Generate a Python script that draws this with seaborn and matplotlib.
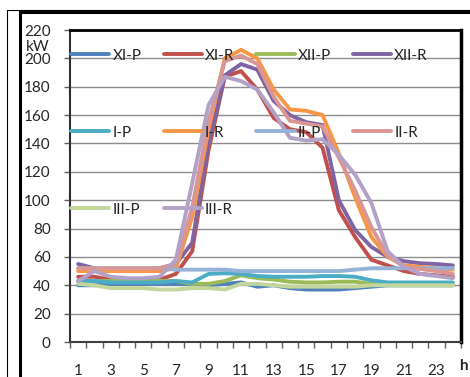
import numpy as np
import pandas as pd
import matplotlib
matplotlib.use("Agg")
import matplotlib.pyplot as plt
from matplotlib.lines import Line2D
import seaborn as sns

hours = list(range(1, 25))
series_names = ["XI-P", "XI-R", "XII-P", "XII-R", "I-P", "I-R", "II-P", "II-R", "III-P", "III-R"]
colors = ["#4F81BD", "#C0504D", "#9BBB59", "#8064A2", "#4BACC6", "#F79646",
          "#95B3D7", "#D99694", "#C3D69B", "#B3A2C7"]

xi_p   = [40, 40, 41, 41, 41, 41, 41, 41, 40, 41, 42, 39, 40, 38, 37, 37, 37, 38, 39, 40, 40, 40, 40, 40]
xi_r   = [46, 46, 44, 44, 44, 44, 48, 64, 135, 187, 191, 178, 158, 150, 148, 137, 93, 74, 58, 54, 50, 48, 47, 46]
xii_p  = [43, 43, 43, 43, 43, 43, 43, 41, 41, 43, 47, 45, 44, 42.5, 42, 42, 42.5, 42.5, 41, 40, 40, 40, 40, 40]
xii_r  = [55, 52, 50, 50, 51, 52, 55, 70, 140, 188, 196, 192, 170, 160, 155, 153, 100, 79, 67, 60, 57, 55.5, 55, 54]
i_p    = [43, 43, 42, 42, 42, 42, 43, 42, 48, 48.5, 48, 46.5, 46, 46, 46, 46.5, 46.5, 46, 43.5, 42, 42, 42, 42, 42]
i_r    = [50, 50, 50, 50, 50, 50, 52, 88, 150, 200, 206, 200, 178, 164, 163, 160, 133, 102, 74, 60, 54, 53, 52, 51]
ii_p   = [52, 52, 52, 52, 52, 52, 51, 51, 51, 51, 50, 50, 50, 50, 50, 50, 50, 51, 52, 52, 52, 52, 52, 52]
ii_r   = [52, 52, 52, 52, 52, 52, 55, 95, 155, 198, 202, 196, 173, 156, 154, 152, 130, 107, 81, 61, 53, 51.5, 50, 48]
iii_p  = [41, 40, 38, 38, 38, 37, 37, 38, 38, 37, 41, 41, 40, 39, 39, 39, 39, 39, 40, 40, 40, 40, 40, 40]
iii_r  = [43, 50, 46, 45, 45, 46, 58, 112, 167, 187, 184, 178, 162, 144, 142, 143, 132, 118, 98, 64, 53, 48, 46.5, 45]

y_ticks = list(range(0, 221, 20))
x_labels = [str(h) for h in range(1, 24, 2)]

values = [xi_p, xi_r, xii_p, xii_r, i_p, i_r, ii_p, ii_r, iii_p, iii_r]
df = pd.DataFrame({
    "hour": np.tile(hours, len(series_names)),
    "kW": np.concatenate(values),
    "series": np.repeat(series_names, len(hours)),
})

sns.set_style("white")
plt.rcParams["font.family"] = ["Lato", "DejaVu Sans"]

fig = plt.figure(figsize=(4.7, 3.77), dpi=100)
W, H = 470, 377
ax = fig.add_axes([70 / W, 1 - 342 / H, 391 / W, 312 / H])

sns.lineplot(data=df, x="hour", y="kW", hue="series", hue_order=series_names,
             palette=colors, linewidth=2.8, ax=ax, sort=False, legend=True)

ax.set_xlim(0.5, 24.5)
ax.set_ylim(0, 220)
ax.set_yticks(y_ticks)
ax.set_yticklabels([str(v) for v in y_ticks], fontsize=11)
ax.yaxis.grid(True, color="#8C8C8C", linewidth=1.0)
ax.set_axisbelow(True)

# category boundaries as tick marks, labels at odd hours
ax.set_xticks(np.arange(0.5, 25, 1.0))
ax.set_xticklabels([])
ax.set_xticks(list(range(1, 24, 2)), minor=True)
ax.set_xticklabels(x_labels, minor=True, fontsize=11)
ax.tick_params(axis="x", which="major", direction="out", length=4, width=1, color="#606060", bottom=True)
ax.tick_params(axis="x", which="minor", length=0, pad=16)
ax.tick_params(axis="y", direction="out", length=4, width=1, color="#606060", left=True, pad=10)
ax.set_xlabel("")
ax.set_ylabel("")

for side in ["top", "right", "left", "bottom"]:
    ax.spines[side].set_visible(True)
ax.spines["top"].set_color("black"); ax.spines["top"].set_linewidth(2.0)
ax.spines["right"].set_color("black"); ax.spines["right"].set_linewidth(2.5)
ax.spines["left"].set_color("#303030"); ax.spines["left"].set_linewidth(1.5)
ax.spines["bottom"].set_color("#404040"); ax.spines["bottom"].set_linewidth(1.5)

handles, labels = ax.get_legend_handles_labels()
hmap = dict(zip(labels, handles))
order = ["XI-P", "I-P", "III-P", "XI-R", "I-R", "III-R", "XII-P", "II-P", "XII-R", "II-R"]
ax.legend([hmap[k] for k in order], order, ncol=4, loc="upper left",
          bbox_to_anchor=(0.003, 0.94), borderaxespad=0, borderpad=0,
          frameon=False, fontsize=11, handlelength=2.5, handletextpad=0.2,
          columnspacing=1.45, labelspacing=4.12)

fig.text(38 / W, 1 - 47 / H, "kW", fontsize=11, ha="center", va="center")
fig.text(463 / W, 1 - 366 / H, "h", fontsize=11, fontweight="bold", ha="center", va="center")

# outer frame
fig.add_artist(Line2D([7.5 / W, 7.5 / W], [0, 1 - 10 / H], transform=fig.transFigure, color="black", lw=0.8))
fig.add_artist(Line2D([7.5 / W, 1], [1 - 10 / H, 1 - 10 / H], transform=fig.transFigure, color="black", lw=0.8))
fig.add_artist(Line2D([19.5 / W, 19.5 / W], [0, 1 - 11 / H], transform=fig.transFigure, color="black", lw=2.2))
fig.add_artist(Line2D([19.5 / W, 1], [1 - 11.5 / H, 1 - 11.5 / H], transform=fig.transFigure, color="black", lw=2.2))

fig.savefig("out.png", dpi=100)
